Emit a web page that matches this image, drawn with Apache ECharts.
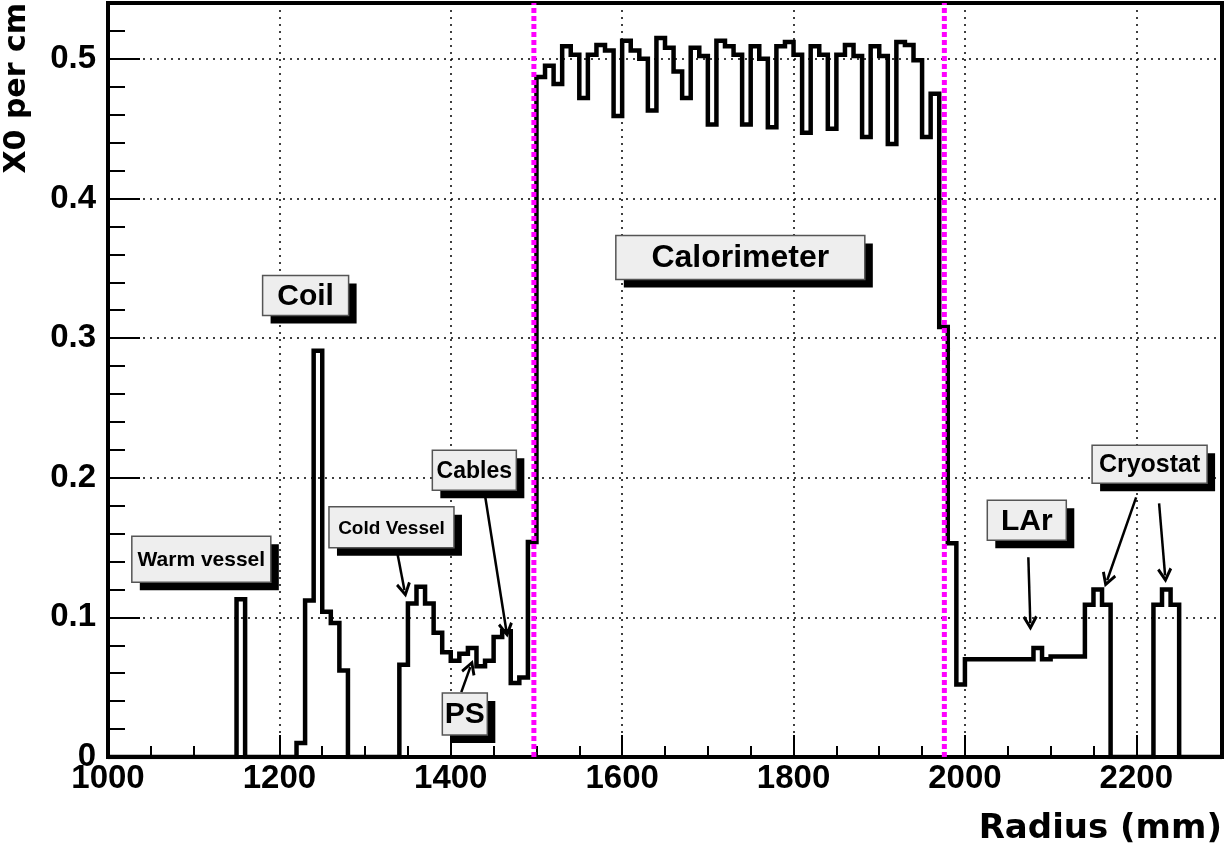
<!DOCTYPE html>
<html>
<head>
<meta charset="utf-8">
<script src="https://cdn.jsdelivr.net/npm/echarts@6/dist/echarts.min.js"></script>
<style>html,body{margin:0;padding:0;background:#fff}#main{width:1225px;height:852px}</style>
</head>
<body>
<div id="main"></div>
<script>
// ---- data ----
const binStart = 1000;   // mm
const binWidth = 10;     // mm
const xTickLabels = [1000, 1200, 1400, 1600, 1800, 2000, 2200];
const yTickLabels = [0, 0.1, 0.2, 0.3, 0.4, 0.5];
// X0 per cm, one value per 10 mm bin, 1000..2300 mm
const x0PerCm = [
  0,0,0,0,0, 0,0,0,0,0, 0,0,0,0,0,            // 1000-1140
  0.113,                                       // 1150 warm vessel
  0,0,0,0,0,0,                                 // 1160-1210
  0.010,0.112,0.291,0.104,0.096,0.062,         // 1220-1270 coil
  0,0,0,0,0,0,                                 // 1280-1330
  0.066,0.110,0.122,0.110,0.089,0.075,0.069,0.074,
  0.078,0.065,0.069,0.086,0.090,0.053,0.057,0.154, // 1340-1490
  0.487,0.495,0.482,0.509,0.503,0.472,0.503,0.510,0.506,0.459, // 1500-1590
  0.513,0.506,0.500,0.463,0.515,0.508,0.491,0.472,0.508,0.502, // 1600-1690
  0.453,0.513,0.509,0.503,0.453,0.509,0.500,0.451,0.509,0.512, // 1700-1790
  0.503,0.447,0.509,0.503,0.450,0.503,0.510,0.502,0.444,0.509, // 1800-1890
  0.502,0.439,0.512,0.510,0.499,0.444,0.475,                   // 1900-1960
  0.308,0.153,0.052,                                           // 1970-1990
  0.070,0.070,0.070,0.070,0.070,0.070,0.070,0.070,             // 2000-2070
  0.078,0.070,                                                 // 2080-2090
  0.072,0.072,0.072,0.072,                                     // 2100-2130
  0.109,0.120,0.109,                                           // 2140-2160
  0,0,0,0,0,                                                   // 2170-2210
  0.109,0.120,0.109,                                           // 2220-2240
  0,0,0,0,0                                                    // 2250-2290
];
const boundaryLines = [1497, 1976];  // mm, magenta dashed markers
const yMax = 0.54;

// annotation boxes (anchor in data coords)
const labelTexts = ['Warm vessel','Coil','Cold Vessel','Cables','PS','Calorimeter','LAr','Cryostat'];
const labelAnchors = [[1108.9,0.1416],[1230.6,0.3305],[1330.8,0.1645],[1427.5,0.2053],[1416.4,0.0308],[1737.9,0.3577],[2072.2,0.1695],[2215.5,0.2096]];
const labelBoxSize = [[139,46],[86,40],[125,41],[84,40],[45,42],[249,44],[79,40],[115,38]];
const labelFontSize = [21,30,19,23,30,32,30,25];
// arrows: [from, to] in data coords
const arrows = [
  [[1336.6,0.1495],[1346.0,0.1195]],
  [[1440.3,0.1860],[1464.8,0.0908]],
  [[1412.3,0.0465],[1422.8,0.0644]],
  [[2074.0,0.1430],[2076.3,0.0958]],
  [[2199.8,0.1860],[2166.0,0.1266]],
  [[2226.6,0.1817],[2233.6,0.1300]]
];

// ---- chart ----
const FONT = 'Liberation Sans';
const TITLE_FONT = 'DejaVu Sans';
const histData = x0PerCm.map((v, i) => [binStart + i * binWidth, v]);
histData.push([binStart + x0PerCm.length * binWidth, 0]);

const arrowHead = 'path://M5,0 L10,9 L8.4,10.2 L5,4 L1.6,10.2 L0,9 Z';
const markData = arrows.map(a => [
  {coord: a[0], symbol: 'none'},
  {coord: a[1], symbol: arrowHead, symbolSize: [15, 15]}
]);

const boundarySeries = boundaryLines.map(x => ({
  type: 'line', data: [[x, 0], [x, yMax]], showSymbol: false, symbol: 'none',
  lineStyle: {color: '#ff00ff', width: 5, type: [5, 3], cap: 'butt'}, z: 4, silent: true
}));

const chart = echarts.init(document.getElementById('main'), null, {width: 1225, height: 852});
const axisLabelStyle = {fontFamily: FONT, fontWeight: 'bold', fontSize: 33, color: '#000'};
chart.setOption({
  animation: false,
  backgroundColor: '#fff',
  grid: {left: 108, right: 3, top: 3, bottom: 95, show: true, borderColor: '#000', borderWidth: 4, backgroundColor: 'transparent'},
  xAxis: {
    type: 'value', min: 1000, max: 2300, interval: 200,
    axisLine: {show: true, onZero: false, lineStyle: {color: '#000', width: 4}},
    axisTick: {show: true, inside: true, length: 22, lineStyle: {color: '#000', width: 2}},
    minorTick: {show: true, splitNumber: 4, length: 11, lineStyle: {color: '#000', width: 2}},
    axisLabel: Object.assign({margin: 5, showMaxLabel: false,
      formatter: v => xTickLabels.indexOf(v) >= 0 ? String(v) : ''}, axisLabelStyle),
    splitLine: {show: true, lineStyle: {color: '#000', width: 1.5, type: [2, 5]}}
  },
  yAxis: {
    type: 'value', min: 0, max: yMax, interval: 0.1,
    axisLine: {show: true, onZero: false, lineStyle: {color: '#000', width: 4}},
    axisTick: {show: true, inside: true, length: 32, lineStyle: {color: '#000', width: 2}},
    minorTick: {show: true, splitNumber: 5, length: 17, lineStyle: {color: '#000', width: 2}},
    axisLabel: Object.assign({margin: 12, showMaxLabel: false,
      formatter: v => { const m = yTickLabels.find(t => Math.abs(t - v) < 1e-6); return m === undefined ? '' : String(m); }}, axisLabelStyle),
    splitLine: {show: true, lineStyle: {color: '#000', width: 1.5, type: [2, 5]}}
  },
  series: [{
    type: 'line', step: 'end', data: histData, showSymbol: false, symbol: 'none',
    lineStyle: {color: '#000', width: 4.5, join: 'miter', cap: 'butt'},
    clip: true, z: 3,
    markLine: {silent: true, animation: false, symbol: ['none','none'], label: {show: false},
      lineStyle: {color: '#000', width: 2.5, type: 'solid'},
      emphasis: {disabled: true}, data: markData}
  }].concat(boundarySeries)
});

// annotation boxes and axis titles
const graphics = [];
labelTexts.forEach((t, i) => {
  const p = chart.convertToPixel({gridIndex: 0}, labelAnchors[i]);
  const w = labelBoxSize[i][0], h = labelBoxSize[i][1];
  const x0 = p[0] - w / 2, y0 = p[1] - h / 2;
  graphics.push({type: 'rect', shape: {x: x0 + 8, y: y0 + 8, width: w, height: h}, style: {fill: '#000'}, z: 100});
  graphics.push({type: 'rect', shape: {x: x0, y: y0, width: w, height: h}, style: {fill: '#eeeeee', stroke: '#555', lineWidth: 1.5}, z: 101});
  graphics.push({type: 'text', x: p[0], y: p[1] + 1, z: 102,
    style: {text: t, fontFamily: FONT, fontWeight: 'bold', fontSize: labelFontSize[i], fill: '#000', align: 'center', verticalAlign: 'middle'}});
});
graphics.push({type: 'text', x: 1222, y: 829, z: 102,
  style: {text: 'Radius (mm)', fontFamily: TITLE_FONT, fontWeight: 'bold', fontSize: 34, fill: '#000', align: 'right', verticalAlign: 'middle'}});
graphics.push({type: 'text', x: 17, y: 3, rotation: Math.PI / 2, z: 102,
  style: {text: 'X0 per cm', fontFamily: TITLE_FONT, fontWeight: 'bold', fontSize: 30, fill: '#000', align: 'right', verticalAlign: 'middle'}});
chart.setOption({graphic: graphics});
</script>
</body>
</html>
